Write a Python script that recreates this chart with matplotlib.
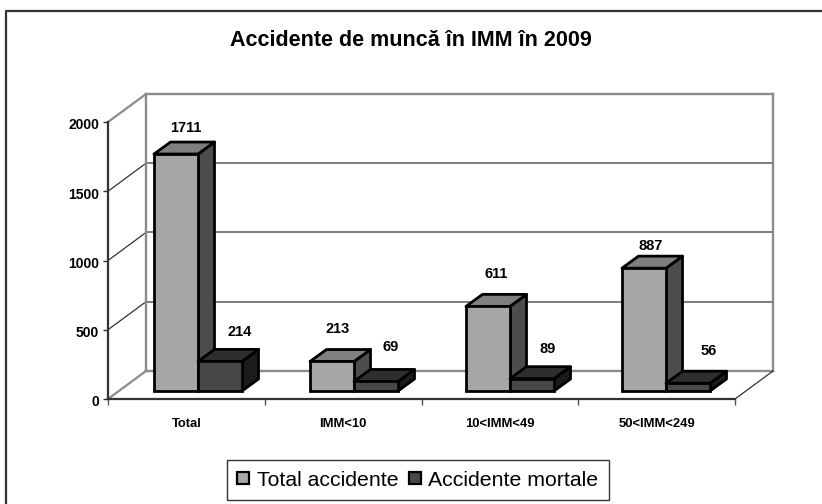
import matplotlib
matplotlib.use("Agg")
import matplotlib.pyplot as plt
from matplotlib.lines import Line2D
from matplotlib.patches import Patch, Polygon
from matplotlib.transforms import ScaledTranslation

plt.rcParams["font.family"] = ["Liberation Sans", "DejaVu Sans"]

## Data
categories = ["Total", "IMM<10", "10<IMM<49", "50<IMM<249"]
total_accidente = [1711, 213, 611, 887]
accidente_mortale = [214, 69, 89, 56]
yticks = [0, 500, 1000, 1500, 2000]

## Label offsets from the top of the bar, in pixels (dragged by hand in the original)
offsets_total = [(10, 26), (6, 32), (8, 32), (7, 22)]
offsets_mortale = [(20, 29), (15, 34), (16, 30), (21, 32)]

W, H = 822, 504
AX_L, AX_R, AX_B, AX_T = 108, 735, 399, 122

fig = plt.figure(figsize=(W / 100, H / 100), dpi=100)
## Outer frame: only the left and top edges are in the picture
fig.add_artist(Line2D([6 / W, 6 / W, 1], [0, 1 - 11 / H, 1 - 11 / H], color="#333333", lw=1.6))

ax = fig.add_axes([AX_L / W, 1 - AX_B / H, (AX_R - AX_L) / W, (AX_B - AX_T) / H])
ax.set_xlim(0, 4)
ax.set_ylim(0, 2000)
ax.patch.set_alpha(0)

px_x = 4 / (AX_R - AX_L)
px_y = 2000 / (AX_B - AX_T)

## Walls and floor of the 3D box
wall_dx, wall_dy = 38 * px_x, 28 * px_y
grey = "#8c8c8c"
for v in yticks:
    thin = v not in (0, 2000)
    ax.plot([wall_dx, 4 + wall_dx], [v + wall_dy] * 2, color="#5a5a5a" if thin else grey,
            lw=1.1 if thin else 1.7, clip_on=False, zorder=1)
    ax.plot([0, wall_dx], [v, v + wall_dy], color="#333333" if thin else grey,
            lw=0.9 if thin else 1.6, clip_on=False, zorder=1)
ax.plot([wall_dx, wall_dx], [wall_dy, 2000 + wall_dy], color=grey, lw=1.7, clip_on=False, zorder=1)
ax.plot([4 + wall_dx] * 2, [wall_dy, 2000 + wall_dy], color=grey, lw=1.7, clip_on=False, zorder=1)
ax.plot([4, 4 + wall_dx], [0, wall_dy], color="#333333", lw=0.9, clip_on=False, zorder=1)

## Bars
bar_w = 44 * px_x
bar_dx, bar_dy = 16.5 * px_x, 12 * px_y
base = 8 * px_y
start = 90 * px_x
step = 156 * px_x


def bar3d(x, value, front, side, top, z):
    ax.bar(x, value, bar_w, bottom=base, align="edge", color=front, edgecolor="black",
           linewidth=2, zorder=z + 0.2, clip_on=False)
    y = base + value
    ax.add_patch(Polygon(
        [(x + bar_w, base), (x + bar_w + bar_dx, base + bar_dy),
         (x + bar_w + bar_dx, y + bar_dy), (x + bar_w, y)],
        facecolor=side, edgecolor="black", linewidth=2, zorder=z, clip_on=False, joinstyle="round"))
    ax.add_patch(Polygon(
        [(x, y), (x + bar_dx, y + bar_dy), (x + bar_w + bar_dx, y + bar_dy), (x + bar_w, y)],
        facecolor=top, edgecolor="black", linewidth=2, zorder=z + 0.1, clip_on=False, joinstyle="round"))


def value_label(x, value, off):
    ax.annotate(str(value), (x + bar_w / 2, base + value), xytext=(off[0] * 0.72, off[1] * 0.72),
                textcoords="offset points", ha="center", va="center", fontsize=10.5,
                fontweight="bold", zorder=10, annotation_clip=False)


for i in range(len(categories)):
    x1 = start + i * step - bar_w
    x2 = start + i * step
    bar3d(x1, total_accidente[i], "#a6a6a6", "#4d4d4d", "#7f7f7f", 3 + i)
    bar3d(x2, accidente_mortale[i], "#484848", "#1c1c1c", "#2e2e2e", 3.5 + i)
    value_label(x1, total_accidente[i], offsets_total[i])
    value_label(x2, accidente_mortale[i], offsets_mortale[i])

## Axes
for s in ("top", "right"):
    ax.spines[s].set_visible(False)
for s in ("left", "bottom"):
    ax.spines[s].set_color("#333333")
    ax.spines[s].set_linewidth(1.6)
    ax.spines[s].set_zorder(2)
ax.set_yticks(yticks)
ax.set_yticklabels([str(v) for v in yticks], fontsize=10, fontweight="bold")
ax.tick_params(axis="y", length=3.5, width=1, color="#333333", pad=3)
## y labels sit a little under their ticks
down = ScaledTranslation(0, -2 / 100, fig.dpi_scale_trans)
for lab in ax.get_yticklabels():
    lab.set_transform(lab.get_transform() + down)
ax.set_xticks(range(5))
ax.set_xticklabels([])
ax.tick_params(axis="x", length=4, width=1, color="#555555")
ax.set_xticks([i + 0.5 for i in range(4)], minor=True)
ax.set_xticklabels(categories, minor=True, fontsize=9.4, fontweight="bold")
ax.tick_params(axis="x", which="minor", length=0, pad=14)

fig.text(410.5 / W, 1 - 41 / H, "Accidente de muncă în IMM în 2009", ha="center", va="center",
         fontsize=15.5, fontweight="bold")

## Legend
handles = [
    Patch(facecolor="#a6a6a6", edgecolor="black", linewidth=1.6, label="Total accidente"),
    Patch(facecolor="#484848", edgecolor="black", linewidth=1.6, label="Accidente mortale"),
]
leg = fig.legend(handles=handles, ncol=2, loc="center", bbox_to_anchor=(418 / W, 1 - 480 / H),
                 fontsize=15.3, fancybox=False, framealpha=1, edgecolor="#333333",
                 handlelength=0.56, handleheight=0.56, handletextpad=0.35, columnspacing=0.5,
                 borderpad=0.5, borderaxespad=0)
leg.get_frame().set_linewidth(1)

fig.savefig("out.png", dpi=100)
